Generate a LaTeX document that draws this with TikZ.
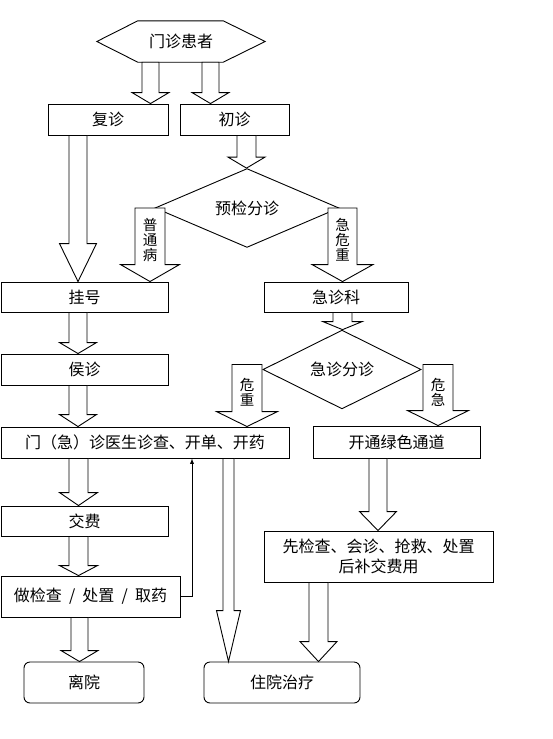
\documentclass[tikz,border=0pt]{standalone}
\usepackage{fontspec}
\setmainfont{Noto Sans CJK SC}
\usepackage{tikz}
\usetikzlibrary{arrows,shapes.geometric,calc}

\tikzset{
	box/.style={draw, rectangle, inner sep=0pt, line width=0.9pt, font=\fontsize{16pt}{20pt}\selectfont},
	rbox/.style={box, rounded corners=6pt},
	choice/.style={draw, diamond, inner sep=0pt, line width=0.9pt, font=\fontsize{16pt}{20pt}\selectfont},
	fat/.style={draw, fill=white, line width=0.9pt},
	vlabel/.style={align=center, inner sep=0pt, font=\fontsize{14.5pt}{15pt}\selectfont}
}

% #1 x, #2 from, #3 to, #4 half shaft, #5 half head, #6 head length
\newcommand\fatarrow[6]{
	\draw[fat] let \p1=(#1,0 |- #2), \p2=(#1,0 |- #3) in (\x1-#4pt,\y1) -- (\x1-#4pt,\y2+#6pt) -- (\x1-#5pt,\y2+#6pt) -- (\x2,\y2) -- (\x1+#5pt,\y2+#6pt) -- (\x1+#4pt,\y2+#6pt) -- (\x1+#4pt,\y1) -- cycle;
}

\begin{document}
\begin{tikzpicture}[x=1pt, y=-1pt]
		\useasboundingbox (0,0) rectangle (553,739);

		\node[minimum width=168pt, minimum height=41pt, inner sep=0pt, font=\fontsize{16pt}{20pt}\selectfont] (mzhz) at (181,41.5) {门诊患者};
		\draw[line width=0.9pt] (mzhz.west) -- ([xshift=41pt]mzhz.north west) -- ([xshift=-42pt]mzhz.north east) -- (mzhz.east) -- ([xshift=-42pt]mzhz.south east) -- ([xshift=41pt]mzhz.south west) -- cycle;

		\node[box, minimum width=120pt, minimum height=31pt] (fz) at (108,119.5) {复诊};
		\node[box, minimum width=109pt, minimum height=31pt] (cz) at (234.5,119.5) {初诊};
		\node[choice, minimum width=184pt, minimum height=62pt] (yjfz) at (247,208) {预检分诊};
		\node[box, minimum width=167pt, minimum height=30pt] (gh) at (84.5,297) {挂号};
		\node[box, minimum width=144pt, minimum height=30pt] (jzk) at (336,297) {急诊科};
		\node[choice, minimum width=158pt, minimum height=53pt] (jzfz) at (342,369.5) {急诊分诊};
		\node[box, minimum width=167pt, minimum height=31pt] (hz) at (84.5,369.5) {侯诊};
		\node[box, minimum width=288pt, minimum height=31pt] (ys) at (145,442.5) {门（急）诊医生诊查、开单、开药};
		\node[box, minimum width=167pt, minimum height=32pt] (lstd) at (396.5,442) {开通绿色通道};
		\node[box, minimum width=167pt, minimum height=30pt] (jf) at (84.5,521) {交费};
		\node[box, minimum width=179pt, minimum height=41pt] (jc) at (90.5,596.5) {做检查 ~/~ 处置 ~/~ 取药};
		\node[box, minimum width=229pt, minimum height=51pt, align=center] (xjc) at (378.5,556.5) {先检查、会诊、抢救、处置\\后补交费用};
		\node[rbox, minimum width=120pt, minimum height=41pt] (ly) at (84,682.5) {离院};
		\node[rbox, minimum width=156pt, minimum height=41pt] (zy) at (282,682.5) {住院治疗};
		\coordinate (wzs) at ([yshift=5pt]jzfz.west);
		\coordinate (wjs) at ([yshift=5pt]jzfz.east);

		\fatarrow{150.5}{mzhz.south}{fz.north}{8.5}{18.5}{11}
		\fatarrow{210.5}{mzhz.south}{cz.north}{8.5}{18.5}{11}
		\fatarrow{246.5}{cz.south}{yjfz.north}{9.5}{18.5}{11}
		\fatarrow{78}{fz.south}{gh.north}{9}{18.5}{38}
		\fatarrow{150}{yjfz.west}{gh.north}{15}{29.5}{17}
		\fatarrow{342.5}{yjfz.east}{jzk.north}{14.5}{30.5}{17}
		\fatarrow{78}{gh.south}{hz.north}{9}{18.5}{11}
		\fatarrow{342.5}{jzk.south}{jzfz.north}{9.5}{19.5}{8}
		\fatarrow{78}{hz.south}{ys.north}{9}{18.5}{12}
		\fatarrow{247}{wzs}{ys.north}{15}{30.5}{15}
		\fatarrow{438}{wjs}{lstd.north}{15}{30.5}{15}
		\fatarrow{78.5}{ys.south}{jf.north}{9.5}{19}{13}
		\fatarrow{78.5}{jf.south}{jc.north}{9.5}{19}{10}
		\fatarrow{79.5}{jc.south}{ly.north}{8.5}{18.5}{11}
		\fatarrow{228.5}{ys.south}{zy.north}{5.5}{12}{51}
		\fatarrow{378}{lstd.south}{xjc.north}{9}{18.5}{19}
		\fatarrow{318.5}{xjc.south}{zy.north}{9.5}{18.5}{20}

		\draw[-latex, line width=0.9pt] (jc.east) -| (192,0 |- ys.south);

		\node[vlabel] (ptb) at (150,240) {普\\通\\病};
		\node[vlabel] (jwz) at (342.5,240) {急\\危\\重};
		\node[vlabel] (wz) at (247,392) {危\\重};
		\node[vlabel] (wj) at (438,392) {危\\急};
\end{tikzpicture}
\end{document}
